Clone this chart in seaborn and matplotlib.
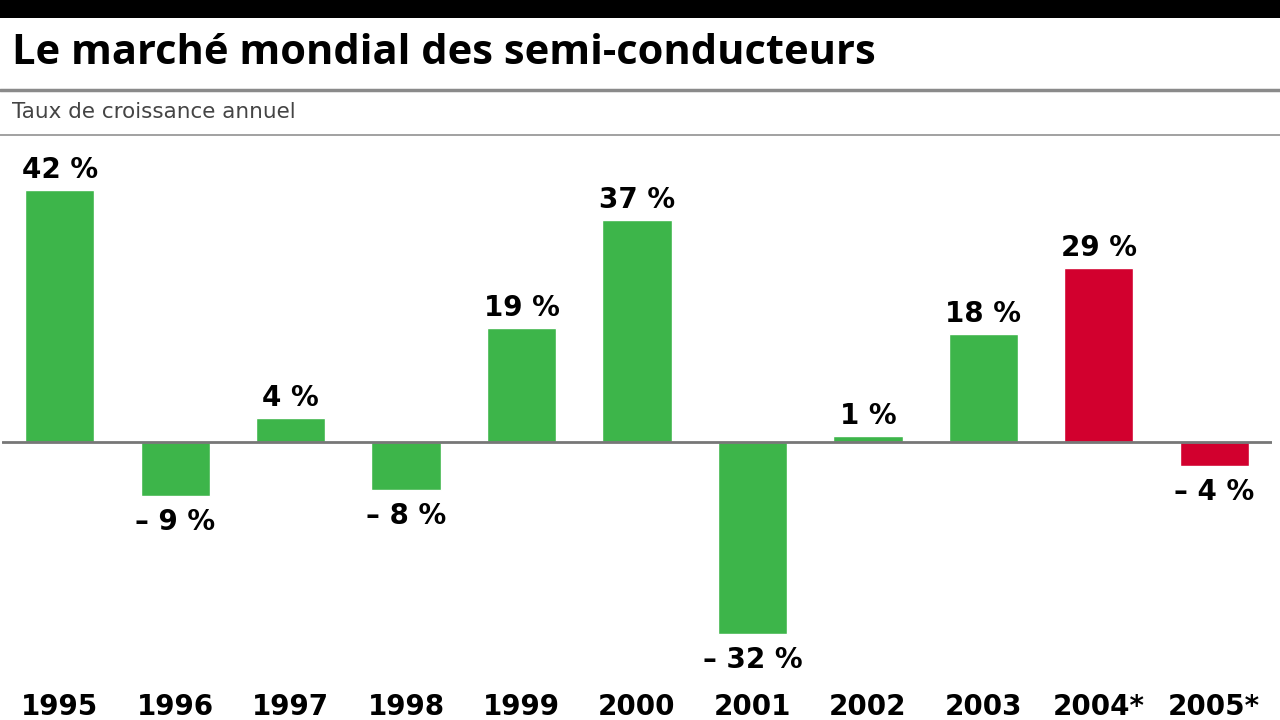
import matplotlib
matplotlib.use("Agg")
import matplotlib.pyplot as plt
import seaborn as sns
import pandas as pd
from matplotlib.lines import Line2D
from matplotlib.patches import Rectangle

years = ["1995", "1996", "1997", "1998", "1999", "2000", "2001", "2002", "2003", "2004*", "2005*"]
growth = [42, -9, 4, -8, 19, 37, -32, 1, 18, 29, -4]
labels = ["42 %", "– 9 %", "4 %", "– 8 %", "19 %", "37 %", "– 32 %", "1 %", "18 %", "29 %", "– 4 %"]
forecast = [False] * 9 + [True, True]

GREEN = "#3db54a"
RED = "#d2002e"
colors = [RED if f else GREEN for f in forecast]

sns.set_theme(style="white")
plt.rcParams["font.family"] = ["DejaVu Sans"]
plt.rcParams["text.color"] = "black"
lab_font = ["DejaVu Sans"]

fig = plt.figure(figsize=(12.8, 7.2), dpi=100)
fig.patch.set_facecolor("white")

# header decorations
fig.patches.append(Rectangle((0, 1 - 18 / 720), 1, 18 / 720, transform=fig.transFigure,
                             facecolor="black", edgecolor="none", zorder=0))
fig.lines.append(Line2D([0, 1], [1 - 90 / 720] * 2, transform=fig.transFigure, color="#8a8a8a", lw=2.5))
fig.lines.append(Line2D([0, 1], [1 - 135 / 720] * 2, transform=fig.transFigure, color="#9a9a9a", lw=1.3))
fig.text(12 / 1280, 1 - 53 / 720, "Le marché mondial des semi-conducteurs", fontsize=30,
         fontweight="bold", color="black", va="center", ha="left", family=["Open Sans", "DejaVu Sans"])
fig.text(12 / 1280, 1 - 112 / 720, "Taux de croissance annuel", fontsize=15.5,
         color="#444444", va="center", ha="left", family=["DejaVu Sans"])

ax = fig.add_axes([2 / 1280, 0, 1270 / 1280, 580 / 720])
df = pd.DataFrame({"year": years, "growth": growth})
sns.barplot(data=df, x="year", y="growth", hue="year", palette=colors, legend=False,
            width=0.6, saturation=1, ax=ax, zorder=2)
ax.set_xlim(-0.5, 10.5)
ax.set_ylim(-46.33, 50.33)
ax.axhline(0, color="#777777", lw=2, zorder=3)
for s in ax.spines.values():
    s.set_visible(False)
ax.set_xticks([])
ax.set_yticks([])
ax.set_xlabel("")
ax.set_ylabel("")
ax.patch.set_alpha(0)

for i, (v, lab) in enumerate(zip(growth, labels)):
    if v >= 0:
        ax.text(i, v + 3.4, lab, ha="center", va="center", fontsize=20, fontweight="bold",
                family=lab_font, color="black")
    else:
        ax.text(i, v - 4.3, lab, ha="center", va="center", fontsize=20, fontweight="bold",
                family=lab_font, color="black")
    ax.text(i, -44.2, years[i], ha="center", va="center", fontsize=20, fontweight="bold",
            family=lab_font, color="black", clip_on=False)

fig.savefig("out.png", dpi=100)
